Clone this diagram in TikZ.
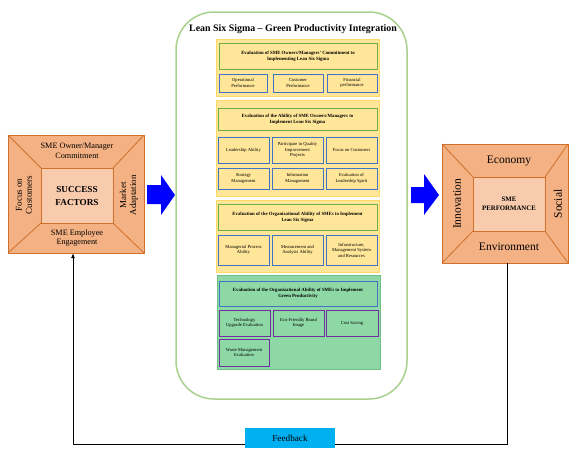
\documentclass[tikz,border=0pt]{standalone}
\usepackage{fontspec}
\setmainfont{Liberation Serif}
\usetikzlibrary{arrows.meta}
\definecolor{orF}{HTML}{F4B183}
\definecolor{orD}{HTML}{D0702A}
\definecolor{orI}{HTML}{F8CBAD}
\definecolor{yeF}{HTML}{FFE699}
\definecolor{yeD}{HTML}{FFD966}
\definecolor{grD}{HTML}{70AD47}
\definecolor{blD}{HTML}{4472C4}
\definecolor{gpF}{HTML}{8ED8A6}
\definecolor{gpD}{HTML}{6CC088}
\definecolor{puD}{HTML}{7030A0}
\definecolor{lgD}{HTML}{A9D18E}
\definecolor{fbF}{HTML}{00B0F0}
\tikzset{
  tiny/.style={font=\fontsize{4.6}{5.4}\selectfont, align=center, inner sep=0.5pt},
  panel/.style={draw=yeD, fill=yeF, line width=0.6pt},
  gpanel/.style={draw=gpD, fill=gpF, line width=0.6pt},
  ttl/.style={tiny, draw=grD, line width=1pt, font=\bfseries\fontsize{4.8}{5.8}\selectfont},
  gttl/.style={tiny, draw=blD, line width=1pt, font=\bfseries\fontsize{4.8}{5.8}\selectfont},
  sub/.style={tiny, draw=blD, line width=1pt},
  gsub/.style={tiny, draw=puD, line width=1pt},
  frame/.style={draw=orD, line width=0.8pt, fill=orF},
  lbl/.style={align=center, font=\fontsize{8.2}{9.4}\selectfont},
  sidelbl/.style={align=center, font=\fontsize{9}{10}\selectfont, rotate=90},
  biglbl/.style={font=\fontsize{11.5}{12}\selectfont},
  blkarrow/.style={fill=blue, draw=none},
}
\newcommand{\bx}[7]{% style, name, x1, y1, x2, y2, text
  \node[#1, minimum width={#5-#3}, minimum height={#6-#4}] (#2) at ({(#3+#5)/2},{(#4+#6)/2}) {#7};}
\begin{document}
\begin{tikzpicture}[x=1pt,y=-1pt]
\useasboundingbox (0,0) rectangle (572,448);
\fill[white] (0,0) rectangle (572,448);

% ---------------- Left box: success factors
\coordinate (LA) at (8,135); \coordinate (LB) at (144,135);
\coordinate (LC) at (144,253); \coordinate (LD) at (8,253);
\coordinate (La) at (41,168); \coordinate (Lb) at (113,168);
\coordinate (Lc) at (113,223); \coordinate (Ld) at (41,223);
\draw[frame] (LA) -- (LB) -- (LC) -- (LD) -- cycle;
\draw[draw=orD, line width=0.8pt, fill=orI] (La) -- (Lb) -- (Lc) -- (Ld) -- cycle;
\draw[draw=orD, line width=0.8pt] (LA) -- (La) (LB) -- (Lb) (LC) -- (Lc) (LD) -- (Ld);
\node (lbox) at (76,194) [minimum width=136, minimum height=118] {};
\node[lbl] (lt) at (77,151) {SME Owner/Manager\\Commitment};
\node[lbl] (lbt) at (77,238) {SME Employee\\Engagement};
\node[sidelbl] (ll) at (24,195) {Focus on\\Customers};
\node[sidelbl] (lr) at (129,195) {Market\\Adaptation};
\node[align=center, font=\bfseries\fontsize{9.2}{12.5}\selectfont] (lcen) at (77,196) {SUCCESS\\FACTORS};

% ---------------- Right box: SME performance
\coordinate (RA) at (442,144); \coordinate (RB) at (568,144);
\coordinate (RC) at (568,263); \coordinate (RD) at (442,263);
\coordinate (Ra) at (473,177); \coordinate (Rb) at (545,177);
\coordinate (Rc) at (545,231); \coordinate (Rd) at (473,231);
\draw[frame] (RA) -- (RB) -- (RC) -- (RD) -- cycle;
\draw[draw=orD, line width=0.8pt, fill=orI] (Ra) -- (Rb) -- (Rc) -- (Rd) -- cycle;
\draw[draw=orD, line width=0.8pt] (RA) -- (Ra) (RB) -- (Rb) (RC) -- (Rc) (RD) -- (Rd);
\node (rbox) at (505,203.5) [minimum width=126, minimum height=119] {};
\node[biglbl] (re) at (509,161) {Economy};
\node[biglbl] (rv) at (509,247) {Environment};
\node[biglbl, rotate=90] (ri) at (457,204) {Innovation};
\node[biglbl, rotate=90] (rs) at (558,204) {Social};
\node[align=center, font=\bfseries\fontsize{6.8}{9}\selectfont] (rcen) at (509,204) {SME\\PERFORMANCE};

% ---------------- Central rounded frame
\draw[draw=lgD, line width=1.5pt, fill=white, rounded corners=38] (176,12) rectangle (407,399);
\node[font=\bfseries\fontsize{9.9}{12}\selectfont] (title) at (293,29) {Lean Six Sigma -- Green Productivity Integration};

% Panel 1
\bx{panel}{p1}{216}{39}{379}{96}{}
\bx{ttl}{p1t}{219}{43}{377}{69}{Evaluation of SME Owners/Managers' Commitment to\\Implementing Lean Six Sigma}
\bx{sub}{p1a}{219}{74}{267}{92}{Operational\\Performance}
\bx{sub}{p1b}{273}{74}{323}{92}{Customer\\Performance}
\bx{sub}{p1c}{327}{74}{377}{92}{Financial\\performance}

% Panel 2
\bx{panel}{p2}{216}{100}{379}{196}{}
\bx{ttl}{p2t}{218}{108}{377}{130}{Evaluation of the Ability of SME Owners/Managers to\\Implement Lean Six Sigma}
\bx{sub}{p2a}{218}{137}{269}{163}{Leadership Ability}
\bx{sub}{p2b}{272}{137}{323}{163}{Participate in Quality\\Improvement\\Projects}
\bx{sub}{p2c}{326}{137}{377}{163}{Focus on Customers}
\bx{sub}{p2d}{218}{168}{269}{189}{Strategy\\Management}
\bx{sub}{p2e}{272}{168}{323}{189}{Information\\Management}
\bx{sub}{p2f}{326}{168}{377}{189}{Evaluation of\\Leadership Spirit}

% Panel 3
\bx{panel}{p3}{216}{200}{379}{272}{}
\bx{ttl}{p3t}{218}{204}{377}{230}{Evaluation of the Organizational Ability of SMEs to Implement\\Lean Six Sigma}
\bx{sub}{p3a}{218}{235}{269}{265}{Managerial Process\\Ability}
\bx{sub}{p3b}{272}{235}{323}{265}{Measurement and\\Analysis Ability}
\bx{sub}{p3c}{326}{235}{377}{265}{Infrastructure,\\Management System\\and Resources}

% Panel 4
\bx{gpanel}{p4}{217}{275}{380}{369}{}
\bx{gttl}{p4t}{219}{281}{377}{306}{Evaluation of the Organizational Ability of SMEs to Implement\\Green Productivity}
\bx{gsub}{p4a}{219}{310}{270}{336}{Technology\\Upgrade Evaluation}
\bx{gsub}{p4b}{273}{310}{324}{336}{Eco-Friendly Brand\\Image}
\bx{gsub}{p4c}{326}{310}{378}{336}{Cost Saving}
\bx{gsub}{p4d}{219}{339}{269}{366}{Waste Management\\Evaluation}

% ---------------- Blue block arrows
\fill[blkarrow] (147,185) -- (161,185) -- (161,175) -- (175,195) -- (161,215) -- (161,204) -- (147,204) -- cycle;
\fill[blkarrow] (411,187) -- (424,187) -- (424,174) -- (439,195) -- (424,215) -- (424,203) -- (411,203) -- cycle;

% ---------------- Feedback loop
\coordinate (fbR) at (507,444);
\coordinate (fbL) at (73,444);
\draw[line width=0.8pt, -{Latex[length=5pt,width=4pt]}] (rbox.south -| fbR) -- (fbR) -- (fbL) -- (lbox.south -| fbL);
\node[fill=fbF, minimum width=90, minimum height=20, font=\fontsize{9.2}{10}\selectfont, text depth=0pt] (fb) at (290,438) {Feedback};
\end{tikzpicture}
\end{document}
